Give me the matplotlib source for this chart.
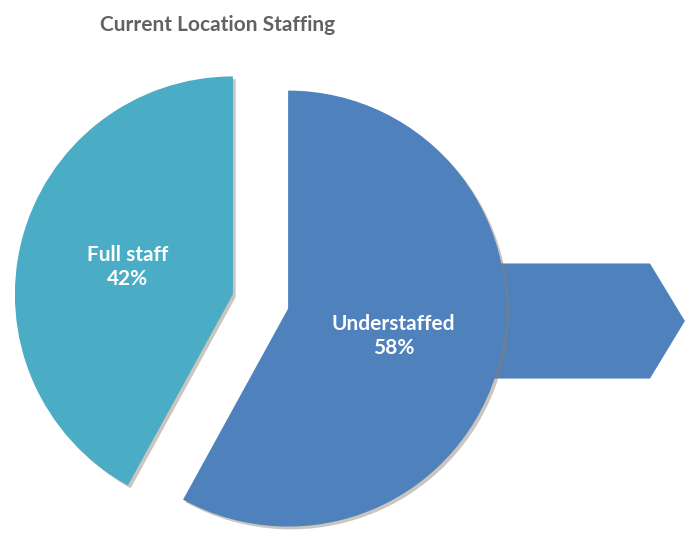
import numpy as np
import matplotlib
matplotlib.use('Agg')
import matplotlib.pyplot as plt
from matplotlib.patches import Polygon, Shadow

plt.rcParams['font.family'] = ['Lato', 'DejaVu Sans']

# data
labels = ['Understaffed', 'Full staff']
shares = [58, 42]
colors = ['#4f81bd', '#4bacc6']
title = 'Current Location Staffing'

# work in pixel-like units so the layout is easy to line up
W, H = 685, 534
radius = 218
center = (260.5, 232.5)
gap = 28.5

fig = plt.figure(figsize=(W/100, H/100), dpi=100)
ax = fig.add_axes([0, 0, 1, 1])

def fmt(pct):
    i = int(round(pct)) == shares[1] and 1 or 0
    return '%s\n%d%%' % (labels[i], round(pct))

wedges, texts, autotexts = ax.pie(
    shares, colors=colors, startangle=90, counterclock=False,
    radius=radius, center=center, explode=[gap, gap],
    autopct=fmt, pctdistance=0.5,
    textprops=dict(color='white', fontsize=15, fontweight='bold'),
    wedgeprops=dict(linewidth=0))
for t in autotexts:
    t.set_linespacing(1.25)
    t.set_zorder(10)

# soft brownish drop shadow like the office style
for w in wedges:
    sh = Shadow(w, 2.0, -2.0)
    sh.set_facecolor('#8a7f70')
    sh.set_alpha(0.45)
    sh.set_zorder(w.get_zorder() - 0.1)
    ax.add_patch(sh)

# arrow coming out of the understaffed slice
bx, by = wedges[0].center
r = wedges[0].r
yc = by - 0.057*r
hh = 0.264*r
arrow = Polygon([(bx + 0.8*r, yc + hh), (bx + 1.66*r, yc + hh), (bx + 1.82*r, yc),
                 (bx + 1.66*r, yc - hh), (bx + 0.8*r, yc - hh)],
                closed=True, facecolor=colors[0], edgecolor='none', zorder=0)
ax.add_patch(arrow)

ax.set_xlim(0, W)
ax.set_ylim(0, H)
ax.set_aspect('equal')
ax.axis('off')

fig.text(218/W, 1 - 25/H, title, ha='center', va='center',
         fontsize=15, fontweight='bold', color='#626262')

fig.savefig('out.png', dpi=100)
